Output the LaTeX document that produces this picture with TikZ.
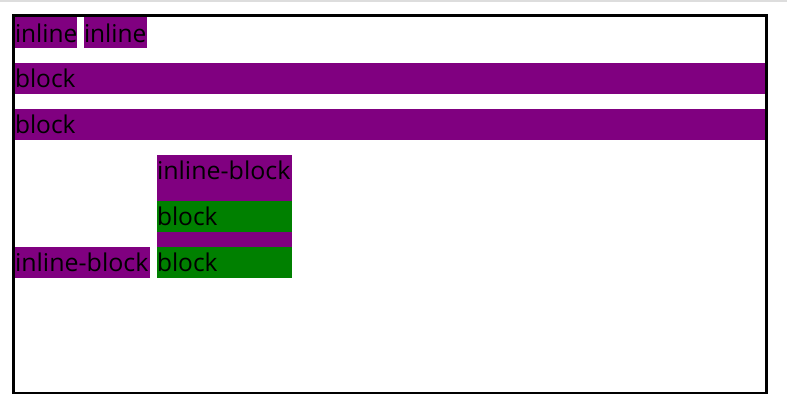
\documentclass[tikz,border=0pt]{standalone}
\usepackage{fontspec}
\setmainfont{Open Sans}
\definecolor{cpurple}{RGB}{128,0,128}
\definecolor{cgreen}{RGB}{0,128,0}
\definecolor{cgray}{RGB}{221,221,221}
\begin{document}
\begin{tikzpicture}[x=1pt,y=-1pt,
  lbl/.style={anchor=base west,inner sep=0pt,outer sep=0pt,font=\fontsize{24.5}{28}\selectfont,text=black},
  pbox/.style={fill=cpurple},
  gbox/.style={fill=cgreen}]
\useasboundingbox (0,0) rectangle (787,409);
\fill[cgray] (0,0) rectangle (787,2);
% boxes
\fill[pbox] (15,16) rectangle (77,48);
\fill[pbox] (84,16) rectangle (147,48);
\fill[pbox] (15,63) rectangle (765,94);
\fill[pbox] (15,109) rectangle (765,140);
\fill[pbox] (157,155) rectangle (292,278);
\fill[gbox] (157,201) rectangle (292,232);
\fill[gbox] (157,247) rectangle (292,278);
\fill[pbox] (15,247) rectangle (150,278);
% border
\draw[line width=2.7pt,black] (13.5,15.5) rectangle (766.5,393);
% texts
\node[lbl] (t1) at (15,42.5) {inline};
\node[lbl] (t2) at (84,42.5) {inline};
\node[lbl] (t3) at (15,87.5) {block};
\node[lbl] (t4) at (15,133.5) {block};
\node[lbl] (t5) at (157,179.5) {\scalebox{1.02}[1]{inline-block}};
\node[lbl] (t6) at (157,225.5) {block};
\node[lbl] (t7) at (157,271.5) {block};
\node[lbl] (t8) at (15,271.5) {\scalebox{1.02}[1]{inline-block}};
\end{tikzpicture}
\end{document}
